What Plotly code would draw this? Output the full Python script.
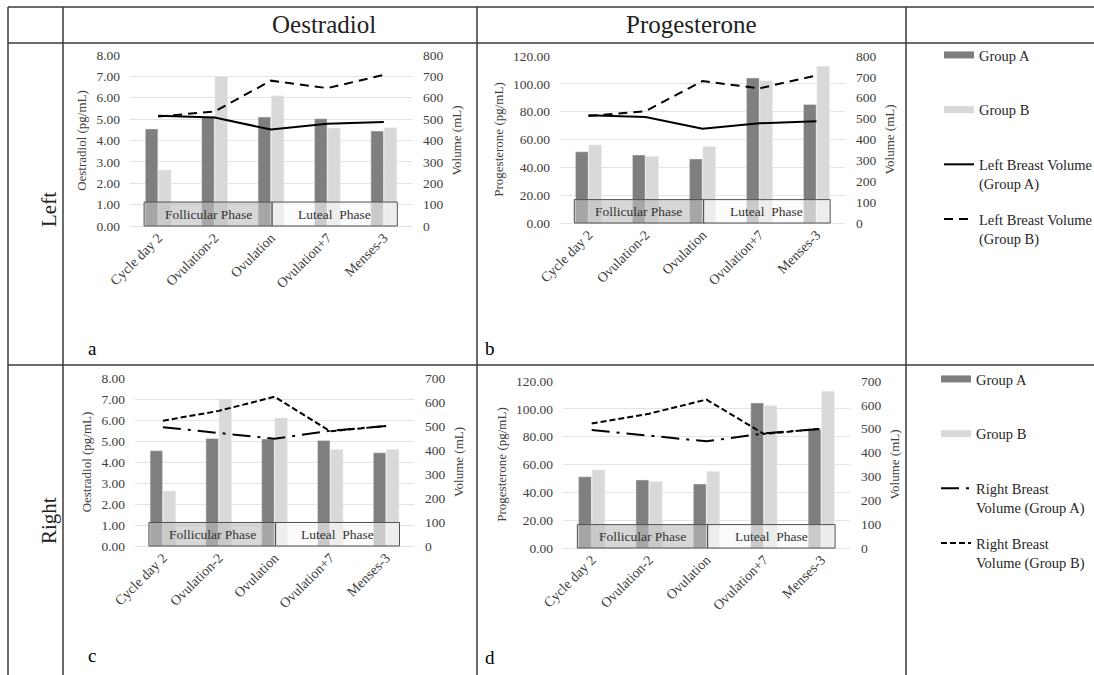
import plotly.graph_objects as go

W, H = 1094, 675

# ---------------- data ----------------
categories = ["Cycle day 2", "Ovulation-2", "Ovulation", "Ovulation+7", "Menses-3"]
oestradiol_group_a = [4.54, 5.12, 5.10, 5.02, 4.44]
oestradiol_group_b = [2.62, 7.00, 6.09, 4.59, 4.60]
progesterone_group_a = [51.2, 48.9, 46.0, 104.2, 85.2]
progesterone_group_b = [56.1, 47.7, 54.9, 102.3, 112.6]
left_volume_group_a = [516, 508, 451, 478, 487]
left_volume_group_b = [512, 536, 680, 645, 707]
right_volume_group_a = [495, 472, 447, 480, 500]
right_volume_group_b = [522, 563, 622, 478, 500]
phase_names = ["Follicular Phase", "Luteal  Phase"]
phase_first = ["Cycle day 2", "Ovulation"]
phase_last = ["Ovulation", "Menses-3"]
column_titles = ["Oestradiol", "Progesterone"]
row_titles = ["Left", "Right"]

SERIF = "Liberation Serif"
TXT = "#404040"
COL_A = "#7f7f7f"
COL_B = "#d9d9d9"


def px(x):
    return x / W


def py(y):
    return 1 - y / H


panels = [
    dict(letter="a", n=1, xd=(130, 412), yd=(55, 226), hA=oestradiol_group_a, hB=oestradiol_group_b,
         hmax=8, hdt=1, htitle="Oestradiol (pg/mL)", vA=left_volume_group_a, vB=left_volume_group_b,
         vmax=800, side="Left", letter_xy=(86, 348), legend="legend"),
    dict(letter="b", n=2, xd=(560, 845), yd=(56, 223), hA=progesterone_group_a, hB=progesterone_group_b,
         hmax=120, hdt=20, htitle="Progesterone (pg/mL)", vA=left_volume_group_a, vB=left_volume_group_b,
         vmax=800, side="Left", letter_xy=(490, 348), legend=None),
    dict(letter="c", n=3, xd=(135, 414), yd=(378, 546), hA=oestradiol_group_a, hB=oestradiol_group_b,
         hmax=8, hdt=1, htitle="Oestradiol (pg/mL)", vA=right_volume_group_a, vB=right_volume_group_b,
         vmax=700, side="Right", letter_xy=(86, 655), legend="legend2"),
    dict(letter="d", n=4, xd=(563, 850), yd=(381, 548), hA=progesterone_group_a, hB=progesterone_group_b,
         hmax=120, hdt=20, htitle="Progesterone (pg/mL)", vA=right_volume_group_a, vB=right_volume_group_b,
         vmax=700, side="Right", letter_xy=(490, 657), legend=None),
]

line_styles = {
    "Left": ("solid", "9px,6px"),
    "Right": ("18px,7px,3px,7px", "6px,3px"),
}

fig = go.Figure()
layout = dict(
    width=W, height=H, margin=dict(l=0, r=0, t=0, b=0, autoexpand=False),
    paper_bgcolor="white", plot_bgcolor="white",
    barmode="group", bargap=0.53, bargroupgap=0.05,
    showlegend=True,
)
shapes = []
annotations = []

for p in panels:
    n = p["n"]
    xname = "x" if n == 1 else f"x{n}"
    yl_idx = 2 * n - 1
    yr_idx = 2 * n
    yl = "y" if yl_idx == 1 else f"y{yl_idx}"
    yr = f"y{yr_idx}"
    xkey = "xaxis" if n == 1 else f"xaxis{n}"
    ylkey = "yaxis" if yl_idx == 1 else f"yaxis{yl_idx}"
    yrkey = f"yaxis{yr_idx}"

    layout[xkey] = dict(
        domain=[px(p["xd"][0]), px(p["xd"][1])], anchor=yl, type="category",
        tickangle=-45, tickfont=dict(family=SERIF, size=14, color=TXT),
        showgrid=False, showline=False, ticks="", zeroline=False, automargin=False,
    )
    layout[ylkey] = dict(
        domain=[py(p["yd"][1]), py(p["yd"][0])], anchor=xname,
        range=[0, p["hmax"]], dtick=p["hdt"], tickformat=".2f",
        tickfont=dict(family=SERIF, size=13.5, color=TXT), ticklabelstandoff=9,
        showgrid=True, gridcolor="#e3e3e3", gridwidth=1,
        zeroline=True, zerolinecolor="#e3e3e3", zerolinewidth=1,
        showline=False, ticks="", automargin=False,
        title=dict(text=p["htitle"], font=dict(family=SERIF, size=13, color=TXT), standoff=6),
    )
    layout[yrkey] = dict(
        overlaying=yl, side="right", anchor=xname,
        range=[0, p["vmax"]], dtick=100,
        tickfont=dict(family=SERIF, size=13.5, color=TXT), ticklabelstandoff=10,
        showgrid=False, zeroline=False, showline=False, ticks="", automargin=False,
        title=dict(text="Volume (mL)", font=dict(family=SERIF, size=13, color=TXT), standoff=9),
    )

    fig.add_trace(go.Bar(x=categories, y=p["hA"], name="Group A", marker_color=COL_A,
                         xaxis=xname, yaxis=yl, offsetgroup="A", showlegend=False))
    fig.add_trace(go.Bar(x=categories, y=p["hB"], name="Group B", marker_color=COL_B,
                         xaxis=xname, yaxis=yl, offsetgroup="B", showlegend=False))

    dashA, dashB = line_styles[p["side"]]
    leg = p["legend"]
    if p["side"] == "Left":
        nameA = "Left Breast Volume<br>(Group A)"
        nameB = "Left Breast Volume<br>(Group B)"
    else:
        nameA = "Right Breast<br>Volume (Group A)"
        nameB = "Right Breast<br>Volume (Group B)"

    if leg is not None:
        # legend-only entries for the bars (flat wide swatches as in the reference)
        fig.add_trace(go.Scatter(x=[None], y=[None], mode="lines", name="Group A<br> ",
                                 line=dict(color=COL_A, width=7), xaxis=xname, yaxis=yl,
                                 legend=leg, legendgroup=f"{leg}_ga", legendrank=1,
                                 hoverinfo="skip"))
        fig.add_trace(go.Scatter(x=[None], y=[None], mode="lines", name="Group B<br> ",
                                 line=dict(color=COL_B, width=7), xaxis=xname, yaxis=yl,
                                 legend=leg, legendgroup=f"{leg}_gb", legendrank=2,
                                 hoverinfo="skip"))

    fig.add_trace(go.Scatter(x=categories, y=p["vA"], mode="lines", name=nameA,
                             line=dict(color="black", width=2, dash=dashA),
                             xaxis=xname, yaxis=yr, showlegend=leg is not None,
                             legend=leg if leg else "legend", legendgroup=f"{leg}_la",
                             legendrank=3))
    fig.add_trace(go.Scatter(x=categories, y=p["vB"], mode="lines", name=nameB,
                             line=dict(color="black", width=2, dash=dashB),
                             xaxis=xname, yaxis=yr, showlegend=leg is not None,
                             legend=leg if leg else "legend", legendgroup=f"{leg}_lb",
                             legendrank=4))

    # phase boxes
    fills = ["rgba(190,190,190,0.62)", "rgba(248,248,248,0.62)"]
    for k, (pname, pf, pl) in enumerate(zip(phase_names, phase_first, phase_last)):
        i0 = categories.index(pf)
        i1 = categories.index(pl)
        x0 = i0 - 0.25 if k == 0 else i0 + 0.02
        x1 = i1 + 0.02 if k == 0 else i1 + 0.24
        shapes.append(dict(type="rect", xref=xname, yref=f"{yl} domain", x0=x0, x1=x1,
                           y0=0, y1=0.14, fillcolor=fills[k],
                           line=dict(color="#505050", width=1), layer="above"))
        annotations.append(dict(text=pname, xref=xname, yref=f"{yl} domain",
                                x=(x0 + x1) / 2, y=0.07, yanchor="middle", showarrow=False,
                                font=dict(family=SERIF, size=13.5, color="#333333")))

    annotations.append(dict(text=p["letter"], xref="paper", yref="paper",
                            x=px(p["letter_xy"][0]), y=py(p["letter_xy"][1]),
                            yanchor="middle", showarrow=False,
                            font=dict(family=SERIF, size=19, color="black")))

# table grid
LC = "#3a3a3a"
for yy in (7, 43, 365):
    shapes.append(dict(type="line", xref="paper", yref="paper", x0=px(8), x1=1.0,
                       y0=py(yy), y1=py(yy), line=dict(color=LC, width=1.5)))
for xx in (8, 63, 477, 906):
    shapes.append(dict(type="line", xref="paper", yref="paper", x0=px(xx), x1=px(xx),
                       y0=py(7), y1=0, line=dict(color=LC, width=1.5)))

# header and row titles
for txt, cx in zip(column_titles, (270, 691)):
    annotations.append(dict(text=txt, xref="paper", yref="paper", x=px(cx), y=py(25),
                            yanchor="middle", showarrow=False,
                            font=dict(family=SERIF, size=25, color="#222222")))
for txt, cy in zip(row_titles, (210, 521)):
    annotations.append(dict(text=txt, xref="paper", yref="paper", x=px(35), y=py(cy),
                            yanchor="middle", showarrow=False, textangle=-90,
                            font=dict(family=SERIF, size=21, color="#222222")))

legend_common = dict(
    xanchor="left", yanchor="top", bgcolor="rgba(0,0,0,0)",
    font=dict(family=SERIF, size=14.5, color="#262626"),
    tracegroupgap=14, valign="top", itemwidth=30,
)
layout["legend"] = dict(x=px(939), y=py(39), **legend_common)
layout["legend2"] = dict(x=px(936), y=py(363), **legend_common)
layout["shapes"] = shapes
layout["annotations"] = annotations

fig.update_layout(**layout)
fig.write_html("out.html")
